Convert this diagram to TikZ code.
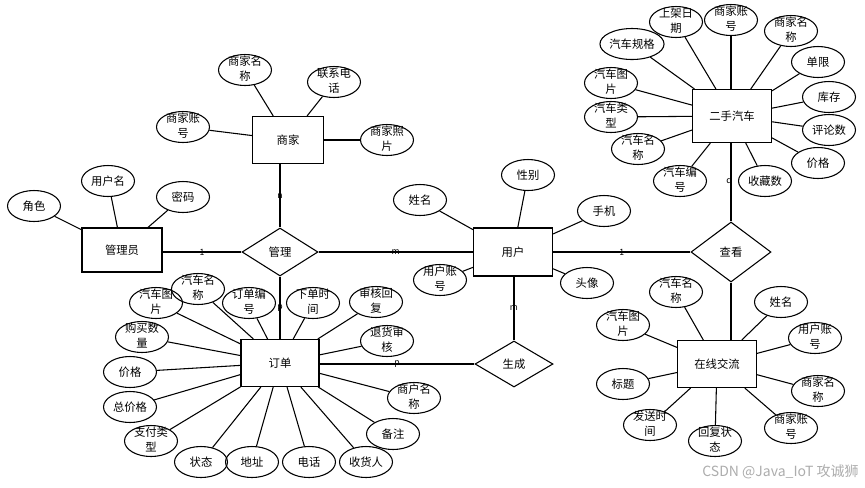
\documentclass[tikz,border=0pt]{standalone}
\usepackage{fontspec}
\setmainfont{Noto Sans CJK SC}
\usetikzlibrary{shapes.geometric}
% two-line attribute label that does not enlarge its ellipse
\newcommand\twoline[2]{\smash{\lower 2pt\hbox{\begin{tabular}{@{}c@{}}#1\\#2\end{tabular}}}}
\tikzset{
  ent/.style={draw, line width=0.8pt, rectangle, inner sep=0pt, font=\fontsize{8.5}{10}\selectfont},
  attr/.style={draw, line width=0.8pt, ellipse, inner sep=0pt, minimum width=53*0.75pt, minimum height=31*0.75pt, font=\fontsize{8.5}{11}\selectfont},
  rel/.style={draw, line width=0.8pt, diamond, inner sep=0pt, font=\fontsize{8.5}{10}\selectfont},
  link/.style={line width=0.8pt},
  card/.style={font=\fontsize{6.5}{7}\selectfont, inner sep=0pt, pos=0.5}
}
\begin{document}
\begin{tikzpicture}[x=0.75pt, y=-0.75pt]
\useasboundingbox[fill=white] (0,0) rectangle (865,487);

% entities
\node[ent, minimum width=80*0.75pt, minimum height=44*0.75pt] (gly) at (122,250) {管理员};
\node[ent, minimum width=71*0.75pt, minimum height=47*0.75pt] (sj) at (288,140) {商家};
\node[ent, minimum width=79*0.75pt, minimum height=48*0.75pt] (yh) at (513,252) {用户};
\node[ent, minimum width=79*0.75pt, minimum height=53*0.75pt] (es) at (732,116) {二手汽车};
\node[ent, minimum width=78*0.75pt, minimum height=47*0.75pt] (dd) at (280,363) {订单};
\node[ent, minimum width=79*0.75pt, minimum height=47*0.75pt] (zx) at (717,364) {在线交流};

% relationships
\node[rel, minimum width=76*0.75pt, minimum height=48*0.75pt] (gl) at (280,252) {管理};
\node[rel, minimum width=80*0.75pt, minimum height=60*0.75pt] (ck) at (731,252) {查看};
\node[rel, minimum width=78*0.75pt, minimum height=46*0.75pt] (sc) at (514,364) {生成};

% relationship links with cardinalities
\draw[link] (gl.west -| gly.east) -- node[card] {1} (gl.west);
\draw[link] (sj.south -| gl.north) -- node[card] {n} (gl.north);
\draw[link] (gl.east) -- node[card] {m} (yh.west);
\draw[link] (gl.south) -- node[card] {p} (dd.north -| gl.south);
\draw[link] (yh.east) -- node[card] {1} (ck.west);
\draw[link] (ck.north) -- node[card, xshift=-1.5pt] {q} (ck.north |- es.south);
\draw[link] (ck.south) -- (ck.south |- zx.north);
\draw[link] (sc.north) -- node[card] {m} (sc.north |- yh.south);
\draw[link] (dd.east |- sc.west) -- node[card] {p} (sc.west);

% 管理员 attributes
\node[attr] (a1) at (34,206) {角色};
\node[attr] (a2) at (108,181) {用户名};
\node[attr] (a3) at (183,197) {密码};
\foreach \n in {a1,a2,a3} \draw[link] (\n) -- (gly);

% 商家 attributes
\node[attr] (b1) at (245,70) {\twoline{商家名}{称}};
\node[attr] (b2) at (183,127) {\twoline{商家账}{号}};
\node[attr] (b3) at (334,82) {\twoline{联系电}{话}};
\node[attr] (b4) at (387,140) {\twoline{商家照}{片}};
\foreach \n in {b1,b2,b3,b4} \draw[link] (\n) -- (sj);

% 用户 attributes
\node[attr] (c1) at (420,200) {姓名};
\node[attr] (c2) at (528,175) {性别};
\node[attr] (c3) at (604,211) {手机};
\node[attr] (c4) at (440,280) {\twoline{用户账}{号}};
\node[attr] (c5) at (587,283) {头像};
\foreach \n in {c1,c2,c3,c4,c5} \draw[link] (\n) -- (yh);

% 二手汽车 attributes
\node[attr] (d1) at (676,22) {\twoline{上架日}{期}};
\node[attr] (d2) at (731,20) {\twoline{商家账}{号}};
\node[attr] (d3) at (791,31) {\twoline{商家名}{称}};
\node[attr] (d4) at (632,44) {汽车规格};
\node[attr] (d5) at (818,62) {单限};
\node[attr] (d6) at (611,83) {\twoline{汽车图}{片}};
\node[attr] (d7) at (829,97) {库存};
\node[attr] (d8) at (611,117) {\twoline{汽车类}{型}};
\node[attr] (d9) at (829,130) {评论数};
\node[attr] (d10) at (638,149) {\twoline{汽车名}{称}};
\node[attr] (d11) at (818,163) {价格};
\node[attr] (d12) at (680,181) {\twoline{汽车编}{号}};
\node[attr] (d13) at (765,181) {收藏数};
\foreach \n in {d1,d3,d4,d5,d6,d7,d8,d9,d10,d11,d12,d13} \draw[link] (\n) -- (es);
\draw[link] (d2.south) -- (d2.south |- es.north);

% 订单 attributes
\node[attr] (e1) at (156,303) {\twoline{汽车图}{片}};
\node[attr] (e2) at (198,289) {\twoline{汽车名}{称}};
\node[attr] (e3) at (249,303) {\twoline{订单编}{号}};
\node[attr] (e4) at (313,303) {\twoline{下单时}{间}};
\node[attr] (e5) at (376,302) {\twoline{审核回}{复}};
\node[attr] (e6) at (387,341) {\twoline{退货审}{核}};
\node[attr] (e7) at (142,337) {\twoline{购买数}{量}};
\node[attr] (e8) at (130,372) {价格};
\node[attr] (e9) at (130,407) {总价格};
\node[attr] (e10) at (151,441) {\twoline{支付类}{型}};
\node[attr] (e11) at (201,462) {状态};
\node[attr] (e12) at (252,462) {地址};
\node[attr] (e13) at (309,462) {电话};
\node[attr] (e14) at (366,462) {收货人};
\node[attr] (e15) at (393,434) {备注};
\node[attr] (e16) at (414,398) {\twoline{商户名}{称}};
\foreach \n in {e1,e2,e3,e4,e5,e6,e7,e8,e9,e10,e11,e12,e13,e14,e15,e16} \draw[link] (\n) -- (dd);

% 在线交流 attributes
\node[attr] (f1) at (676,292) {\twoline{汽车名}{称}};
\node[attr] (f2) at (781,302) {姓名};
\node[attr] (f3) at (623,325) {\twoline{汽车图}{片}};
\node[attr] (f4) at (815,338) {\twoline{用户账}{号}};
\node[attr] (f5) at (623,384) {标题};
\node[attr] (f6) at (818,391) {\twoline{商家名}{称}};
\node[attr] (f7) at (650,425) {\twoline{发送时}{间}};
\node[attr] (f8) at (715,441) {\twoline{回复状}{态}};
\node[attr] (f9) at (791,428) {\twoline{商家账}{号}};
\foreach \n in {f1,f2,f3,f4,f5,f6,f7,f8,f9} \draw[link] (\n) -- (zx);

% watermark
\node[text=black!32, font=\fontsize{10.5}{12}\selectfont, anchor=east, inner sep=0pt] (wm) at (859,472) {CSDN @Java\_IoT 攻诚狮};
\end{tikzpicture}
\end{document}
